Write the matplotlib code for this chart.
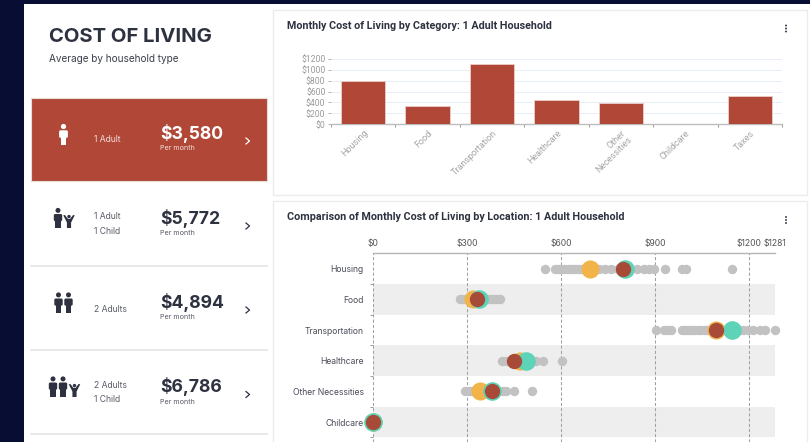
import matplotlib
matplotlib.use("Agg")
import matplotlib.pyplot as plt
from matplotlib.patches import Rectangle, Circle, Polygon, FancyBboxPatch

W, H = 810, 442
NAVY = "#070d33"
RED = "#b04737"
DOT_RED = "#a84a38"
TEAL = "#5dd3b8"
YELLOW = "#f2b448"
GRAY = "#c2c2c2"
DARK = "#2e3240"

# side panel
households = ["1 Adult", "1 Adult\n1 Child", "2 Adults", "2 Adults\n1 Child"]
totals = ["$3,580", "$5,772", "$4,894", "$6,786"]

# bar chart
categories = ["Housing", "Food", "Transportation", "Healthcare",
              "Other\nNecessities", "Childcare", "Taxes"]
bar_values = [800, 330, 1100, 450, 385, 0, 525]
bar_ticks = [0, 200, 400, 600, 800, 1000, 1200]

# dot chart
rows = ["Housing", "Food", "Transportation", "Healthcare",
        "Other Necessities", "Childcare"]
dot_ticks = [0, 300, 600, 900, 1200, 1281]
gray_housing = [548, 580, 590, 600, 610, 620, 630, 640, 650, 660, 670, 680, 700,
                720, 740, 760, 780, 800, 820, 842, 865, 880, 895, 931, 985, 997, 1144]
gray_food = [276, 285, 295, 305, 345, 355, 365, 375, 385, 395, 404]
gray_transport = [901, 928, 949, 938, 984, 995, 1005, 1015, 1025, 1035, 1045, 1055,
                  1065, 1075, 1085, 1170, 1180, 1195, 1213, 1234, 1250, 1281]
gray_health = [411, 425, 440, 505, 520, 541, 601]
gray_other = [293, 305, 315, 325, 400, 415, 425, 449, 506]
gray_values = [gray_housing, gray_food, gray_transport, gray_health, gray_other, []]
yellow_values = [691, 318, 1094, 468, 341, 0]
teal_values = [802, 337, 1144, 487, 379, 0]
red_values = [797, 330, 1094, 448, 379, 0]


def person(ax, cx, top, h, color, child=False):
    w = h * 0.42
    if child:
        ax.add_patch(Circle((cx, top + h * 0.12), h * 0.13, color=color, lw=0))
        ax.add_patch(Polygon([(cx - w * 1.05, top + h * 0.02), (cx - w * 0.75, top),
                              (cx - w * 0.2, top + h * 0.3), (cx + w * 0.2, top + h * 0.3),
                              (cx + w * 0.75, top), (cx + w * 1.05, top + h * 0.02),
                              (cx + w * 0.38, top + h * 0.58), (cx + w * 0.38, top + h),
                              (cx - w * 0.38, top + h), (cx - w * 0.38, top + h * 0.58)],
                             color=color, lw=0))
    else:
        ax.add_patch(Circle((cx, top + h * 0.12), h * 0.125, color=color, lw=0))
        ax.add_patch(FancyBboxPatch((cx - w / 2, top + h * 0.3), w, h * 0.36,
                                    boxstyle="round,pad=0,rounding_size=1.5",
                                    color=color, lw=0))
        ax.add_patch(Rectangle((cx - w * 0.33, top + h * 0.5), w * 0.66, h * 0.5,
                               color=color, lw=0))


fig = plt.figure(figsize=(W / 100, H / 100), dpi=100, facecolor=NAVY)
bg = fig.add_axes([0, 0, 1, 1])
bg.set_xlim(0, W)
bg.set_ylim(H, 0)
bg.axis("off")

bg.add_patch(Rectangle((24, 4), W - 24, H - 4, color="white", lw=0))
for box in [(273, 10, 534, 185), (273, 201, 534, 245)]:
    bg.add_patch(Rectangle(box[:2], box[2], box[3], fc="white", ec="#ececec", lw=1))

bg.text(49, 36.5, "COST OF LIVING", family="Inter", weight="bold", fontsize=14.6,
        color=DARK, va="center")
bg.text(49, 59, "Average by household type", family="Inter", fontsize=7.2,
        color="#3c3f4a", va="center")

bg.add_patch(Rectangle((30.5, 98), 236.5, 83, fc=RED, ec="#e6dcda", lw=0.8))
for y in [266, 350, 434]:
    bg.plot([30.5, 267], [y, y], color="#e4e4e4", lw=1.2)

row_y = [139.5, 224.5, 308.5, 393]
for i, (lab, tot, y) in enumerate(zip(households, totals, row_y)):
    c = "white" if i == 0 else DARK
    sub = "#f3dfdb" if i == 0 else "#5a5d68"
    lines = lab.split("\n")
    if len(lines) == 1:
        bg.text(94, y + 0.5, lines[0], family="Inter", fontsize=6.2, color=sub, va="center")
    else:
        bg.text(94, y - 8, lines[0], family="Inter", fontsize=6.2, color=sub, va="center")
        bg.text(94, y + 7, lines[1], family="Inter", fontsize=6.2, color=sub, va="center")
    bg.text(160, y - 6, tot, family="Inter", weight="bold", fontsize=12.7, color=c, va="center")
    bg.text(160, y + 8.5, "Per month", family="Inter", fontsize=5.2, color=sub, va="center")
    bg.plot([246, 249.5, 246], [y - 1.5, y + 1.5, y + 4.5], color=c, lw=0.9)

person(bg, 63.5, 124, 21, "white")
person(bg, 58, 208, 20, DARK)
person(bg, 69, 215, 13, DARK, child=True)
person(bg, 58.5, 292.5, 20, DARK)
person(bg, 68.5, 292.5, 20, DARK)
person(bg, 53, 376.5, 20, DARK)
person(bg, 63, 376.5, 20, DARK)
person(bg, 74.5, 384, 13, DARK, child=True)

bg.text(287, 26, "Monthly Cost of Living by Category: 1 Adult Household", family="Roboto",
        weight="bold", fontsize=7.75, color=DARK, va="center")
bg.text(287, 217, "Comparison of Monthly Cost of Living by Location: 1 Adult Household",
        family="Roboto", weight="bold", fontsize=7.75, color=DARK, va="center")
for y0 in [28.5, 220]:
    for dy in [-3, 0, 3]:
        bg.add_patch(Circle((786, y0 + dy), 0.95, color=DARK, lw=0))

# bar chart
x0, x1, ytop, ybot = 331, 782, 58.7, 124.3
ax = fig.add_axes([x0 / W, 1 - ybot / H, (x1 - x0) / W, (ybot - ytop) / H])
ax.patch.set_alpha(0)
pos = list(range(len(categories)))
ax.bar(pos, bar_values, width=0.69, color=RED, edgecolor="#eccfca", linewidth=0.6, zorder=3)
ax.set_xlim(-0.5, 6.5)
ax.set_ylim(0, 1200)
ax.set_yticks(bar_ticks)
ax.set_yticklabels([f"${v}" for v in bar_ticks], fontsize=6.2, color="#9a9a9a",
                   family="Roboto")
ax.set_xticks([p - 0.5 for p in pos] + [6.5])
ax.set_xticklabels([])
ax.set_xticks(pos, minor=True)
ax.set_xticklabels(categories, minor=True, rotation=45, ha="right", va="top",
                   rotation_mode="anchor", fontsize=6.5, color="#a5a5a5",
                   family="Roboto", linespacing=1.05)
ax.tick_params(axis="x", which="minor", length=0, pad=3)
ax.tick_params(axis="x", which="major", length=2.5, width=0.7, color="#9a9a9a")
ax.tick_params(axis="y", length=2.5, width=0.7, color="#b5b5b5", pad=1.5)
ax.grid(axis="y", color="#e8eef6", lw=0.7, zorder=0)
for s in ["top", "right", "left"]:
    ax.spines[s].set_visible(False)
ax.spines["bottom"].set_color("#bdbdbd")
ax.spines["bottom"].set_linewidth(1)

# dot chart
x0, x1, ytop, ybot = 373.3, 774.7, 253.3, 442
ax2 = fig.add_axes([x0 / W, 1 - ybot / H, (x1 - x0) / W, (ybot - ytop) / H])
ax2.patch.set_alpha(0)
ax2.set_xlim(0, 1281)
ax2.set_ylim(5.65, -0.5)
for i in [1, 3, 5]:
    ax2.axhspan(i - 0.5, i + 0.5, color="#eeeeee", lw=0, zorder=0)
for v in dot_ticks:
    ax2.axvline(v, color="#a0a0a0", lw=0.75, ls=(0, (3, 2)), zorder=1)
for i in range(len(rows)):
    if gray_values[i]:
        ax2.scatter(gray_values[i], [i] * len(gray_values[i]), s=46, color=GRAY, lw=0,
                    zorder=2, clip_on=False)
ys = list(range(len(rows)))
ax2.scatter(yellow_values, ys, s=170, color=YELLOW, lw=0, zorder=3, clip_on=False)
ax2.scatter(teal_values, ys, s=180, color=TEAL, lw=0, zorder=4, clip_on=False)
ax2.scatter(red_values, ys, s=122, color=DOT_RED, lw=0, zorder=5, clip_on=False)
ax2.xaxis.tick_top()
ax2.set_xticks(dot_ticks)
ax2.set_xticklabels([f"${v}" for v in dot_ticks], fontsize=6.2, color="#555555",
                    family="Inter")
ax2.tick_params(axis="x", length=0, pad=4)
ax2.set_yticks([y + 0.5 for y in ys])
ax2.set_yticklabels([])
ax2.set_yticks(ys, minor=True)
ax2.set_yticklabels(rows, minor=True, fontsize=6.2, color="#4a4d58", family="Inter")
ax2.tick_params(axis="y", which="minor", length=0, pad=7)
ax2.tick_params(axis="y", which="major", length=2.5, width=0.7, color="#9a9a9a")
for s in ["left", "right", "bottom"]:
    ax2.spines[s].set_visible(False)
ax2.spines["top"].set_color("#b5b5b5")
ax2.spines["top"].set_linewidth(1)

fig.savefig("out.png", dpi=100, facecolor=NAVY)
